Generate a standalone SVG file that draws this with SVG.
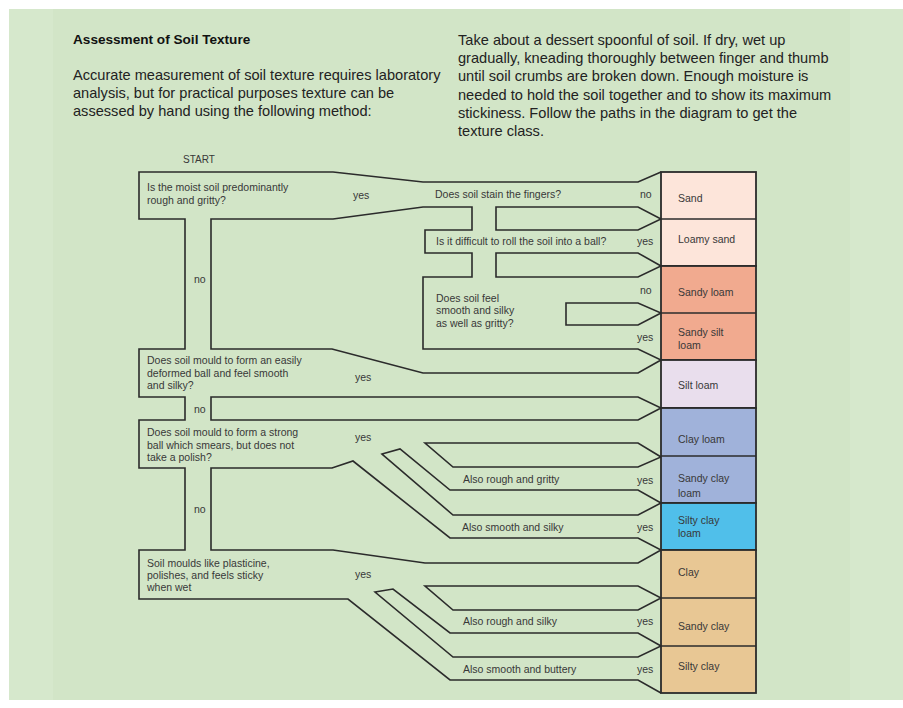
<svg xmlns="http://www.w3.org/2000/svg" width="903" height="708" viewBox="0 0 903 708">
<style>
.hd{font-family:"Liberation Sans",Arial,sans-serif;font-size:14.6px;fill:#222}
.tt{font-family:"Liberation Sans",Arial,sans-serif;font-size:13.6px;font-weight:bold;fill:#111}
.t{font-family:"Liberation Sans",Arial,sans-serif;font-size:10.5px;fill:#383838}
.ln{fill:none;stroke:#2b2b2b;stroke-width:1.6;stroke-linejoin:miter}
.bx{stroke:#2b2b2b;stroke-width:1.8}
.dv{stroke:#2b2b2b;stroke-width:1.3}
</style>
<rect x="0" y="0" width="903" height="708" fill="#ffffff"/>
<rect x="9" y="9" width="894" height="691" fill="#d6e8cc"/>
<rect x="53" y="9" width="797" height="691" fill="#d2e5c7"/>

<g id="header">
<text class="tt" x="73" y="44">Assessment of Soil Texture</text>
<text class="hd" x="73" y="80">Accurate measurement of soil texture requires laboratory</text>
<text class="hd" x="73" y="98">analysis, but for practical purposes texture can be</text>
<text class="hd" x="73" y="116">assessed by hand using the following method:</text>
<text class="hd" x="458" y="45">Take about a dessert spoonful of soil. If dry, wet up</text>
<text class="hd" x="458" y="63">gradually, kneading thoroughly between finger and thumb</text>
<text class="hd" x="458" y="81">until soil crumbs are broken down. Enough moisture is</text>
<text class="hd" x="458" y="99.5">needed to hold the soil together and to show its maximum</text>
<text class="hd" x="458" y="118">stickiness. Follow the paths in the diagram to get the</text>
<text class="hd" x="458" y="136">texture class.</text>
</g>

<g id="connectors">
<path class="ln" d="M661,172 L638,182 L423,182 L333,172 L139,172 L139,219 L185,219 L185,349 L139,349 L139,397 L185,397 L185,420 L139,420 L139,468 L185,468 L185,550 L139,550 L139,599 L348,599 L450,680 L638,680 L661,693"/>
<path class="ln" d="M211,219 L333,219 L423,207 L472,207 L472,230 L425,230 L425,253 L472,253 L472,277 L423,277 L423,349 L638,349 L661,360 L638,373 L423,373 L332,349 L211,349 Z"/>
<path class="ln" d="M496,207 L638,207 L661,219 L638,230 L496,230 Z"/>
<path class="ln" d="M496,253 L638,253 L661,266 L638,277 L496,277 Z"/>
<path class="ln" d="M566,303 L638,303 L661,313 L638,325 L566,325 Z"/>
<path class="ln" d="M211,397 L638,397 L661,408 L638,420 L211,420 Z"/>
<path class="ln" d="M425,443 L638,443 L661,457 L638,467 L453,467 Z"/>
<path class="ln" d="M382,454 L400,449 L450,490 L638,490 L661,503 L638,515 L453,515 Z"/>
<path class="ln" d="M211,468 L332,468 L353,461 L450,538 L638,538 L661,550 L638,563 L425,563 L333,550 L211,550 Z"/>
<path class="ln" d="M425,586 L638,586 L661,598 L638,610 L453,610 Z"/>
<path class="ln" d="M375,592 L393,589 L450,633 L638,633 L661,646 L638,657 L453,657 Z"/>
</g>

<g id="start"><text class="t" x="183" y="163" style="font-size:10px">START</text></g>

<g id="q1">
<text class="t" x="147" y="190.5">Is the moist soil predominantly</text>
<text class="t" x="147" y="203.5">rough and gritty?</text>
<text class="t" x="353" y="199">yes</text>
<text class="t" x="194" y="283">no</text>
</g>
<g id="q1a">
<text class="t" x="435" y="197.5">Does soil stain the fingers?</text>
<text class="t" x="640" y="197.5">no</text>
</g>
<g id="q1b">
<text class="t" x="436" y="245">Is it difficult to roll the soil into a ball?</text>
<text class="t" x="637" y="245">yes</text>
</g>
<g id="q1c">
<text class="t" x="436" y="301.5">Does soil feel</text>
<text class="t" x="436" y="314">smooth and silky</text>
<text class="t" x="436" y="326.5">as well as gritty?</text>
<text class="t" x="640" y="294">no</text>
<text class="t" x="637" y="341">yes</text>
</g>
<g id="q2">
<text class="t" x="147" y="364">Does soil mould to form an easily</text>
<text class="t" x="147" y="377">deformed ball and feel smooth</text>
<text class="t" x="147" y="389">and silky?</text>
<text class="t" x="355" y="381">yes</text>
<text class="t" x="194" y="413">no</text>
</g>
<g id="q3">
<text class="t" x="147" y="436">Does soil mould to form a strong</text>
<text class="t" x="147" y="449">ball which smears, but does not</text>
<text class="t" x="147" y="461">take a polish?</text>
<text class="t" x="355" y="441">yes</text>
<text class="t" x="194" y="513">no</text>
</g>
<g id="q3a">
<text class="t" x="463" y="483">Also rough and gritty</text>
<text class="t" x="637" y="484">yes</text>
</g>
<g id="q3b">
<text class="t" x="462" y="531">Also smooth and silky</text>
<text class="t" x="637" y="531">yes</text>
</g>
<g id="q4">
<text class="t" x="147" y="567">Soil moulds like plasticine,</text>
<text class="t" x="147" y="579">polishes, and feels sticky</text>
<text class="t" x="147" y="591">when wet</text>
<text class="t" x="355" y="578">yes</text>
</g>
<g id="q4a">
<text class="t" x="463" y="625">Also rough and silky</text>
<text class="t" x="637" y="625">yes</text>
</g>
<g id="q4b">
<text class="t" x="463" y="673">Also smooth and buttery</text>
<text class="t" x="637" y="673">yes</text>
</g>

<g id="results">
<rect class="bx" x="661" y="172" width="95" height="94" fill="#fde5da"/>
<rect class="bx" x="661" y="266" width="95" height="94" fill="#f1aa8f"/>
<rect class="bx" x="661" y="360" width="95" height="48" fill="#e9deed"/>
<rect class="bx" x="661" y="408" width="95" height="95" fill="#a0b2da"/>
<rect class="bx" x="661" y="503" width="95" height="47" fill="#50bfea"/>
<rect class="bx" x="661" y="550" width="95" height="143" fill="#e8c794"/>
<line class="dv" x1="661" y1="219" x2="756" y2="219"/>
<line class="dv" x1="661" y1="313" x2="756" y2="313"/>
<line class="dv" x1="661" y1="456" x2="756" y2="456"/>
<line class="dv" x1="661" y1="598" x2="756" y2="598"/>
<line class="dv" x1="661" y1="646" x2="756" y2="646"/>
</g>
<g id="r-sand"><text class="t" x="678" y="201.5">Sand</text></g>
<g id="r-loamy-sand"><text class="t" x="678" y="243">Loamy sand</text></g>
<g id="r-sandy-loam"><text class="t" x="678" y="296">Sandy loam</text></g>
<g id="r-sandy-silt-loam"><text class="t" x="678" y="336">Sandy silt</text><text class="t" x="678" y="349">loam</text></g>
<g id="r-silt-loam"><text class="t" x="678" y="389">Silt loam</text></g>
<g id="r-clay-loam"><text class="t" x="678" y="443">Clay loam</text></g>
<g id="r-sandy-clay-loam"><text class="t" x="678" y="482">Sandy clay</text><text class="t" x="678" y="497">loam</text></g>
<g id="r-silty-clay-loam"><text class="t" x="678" y="524">Silty clay</text><text class="t" x="678" y="537">loam</text></g>
<g id="r-clay"><text class="t" x="678" y="576">Clay</text></g>
<g id="r-sandy-clay"><text class="t" x="678" y="630">Sandy clay</text></g>
<g id="r-silty-clay"><text class="t" x="678" y="670">Silty clay</text></g>
</svg>
